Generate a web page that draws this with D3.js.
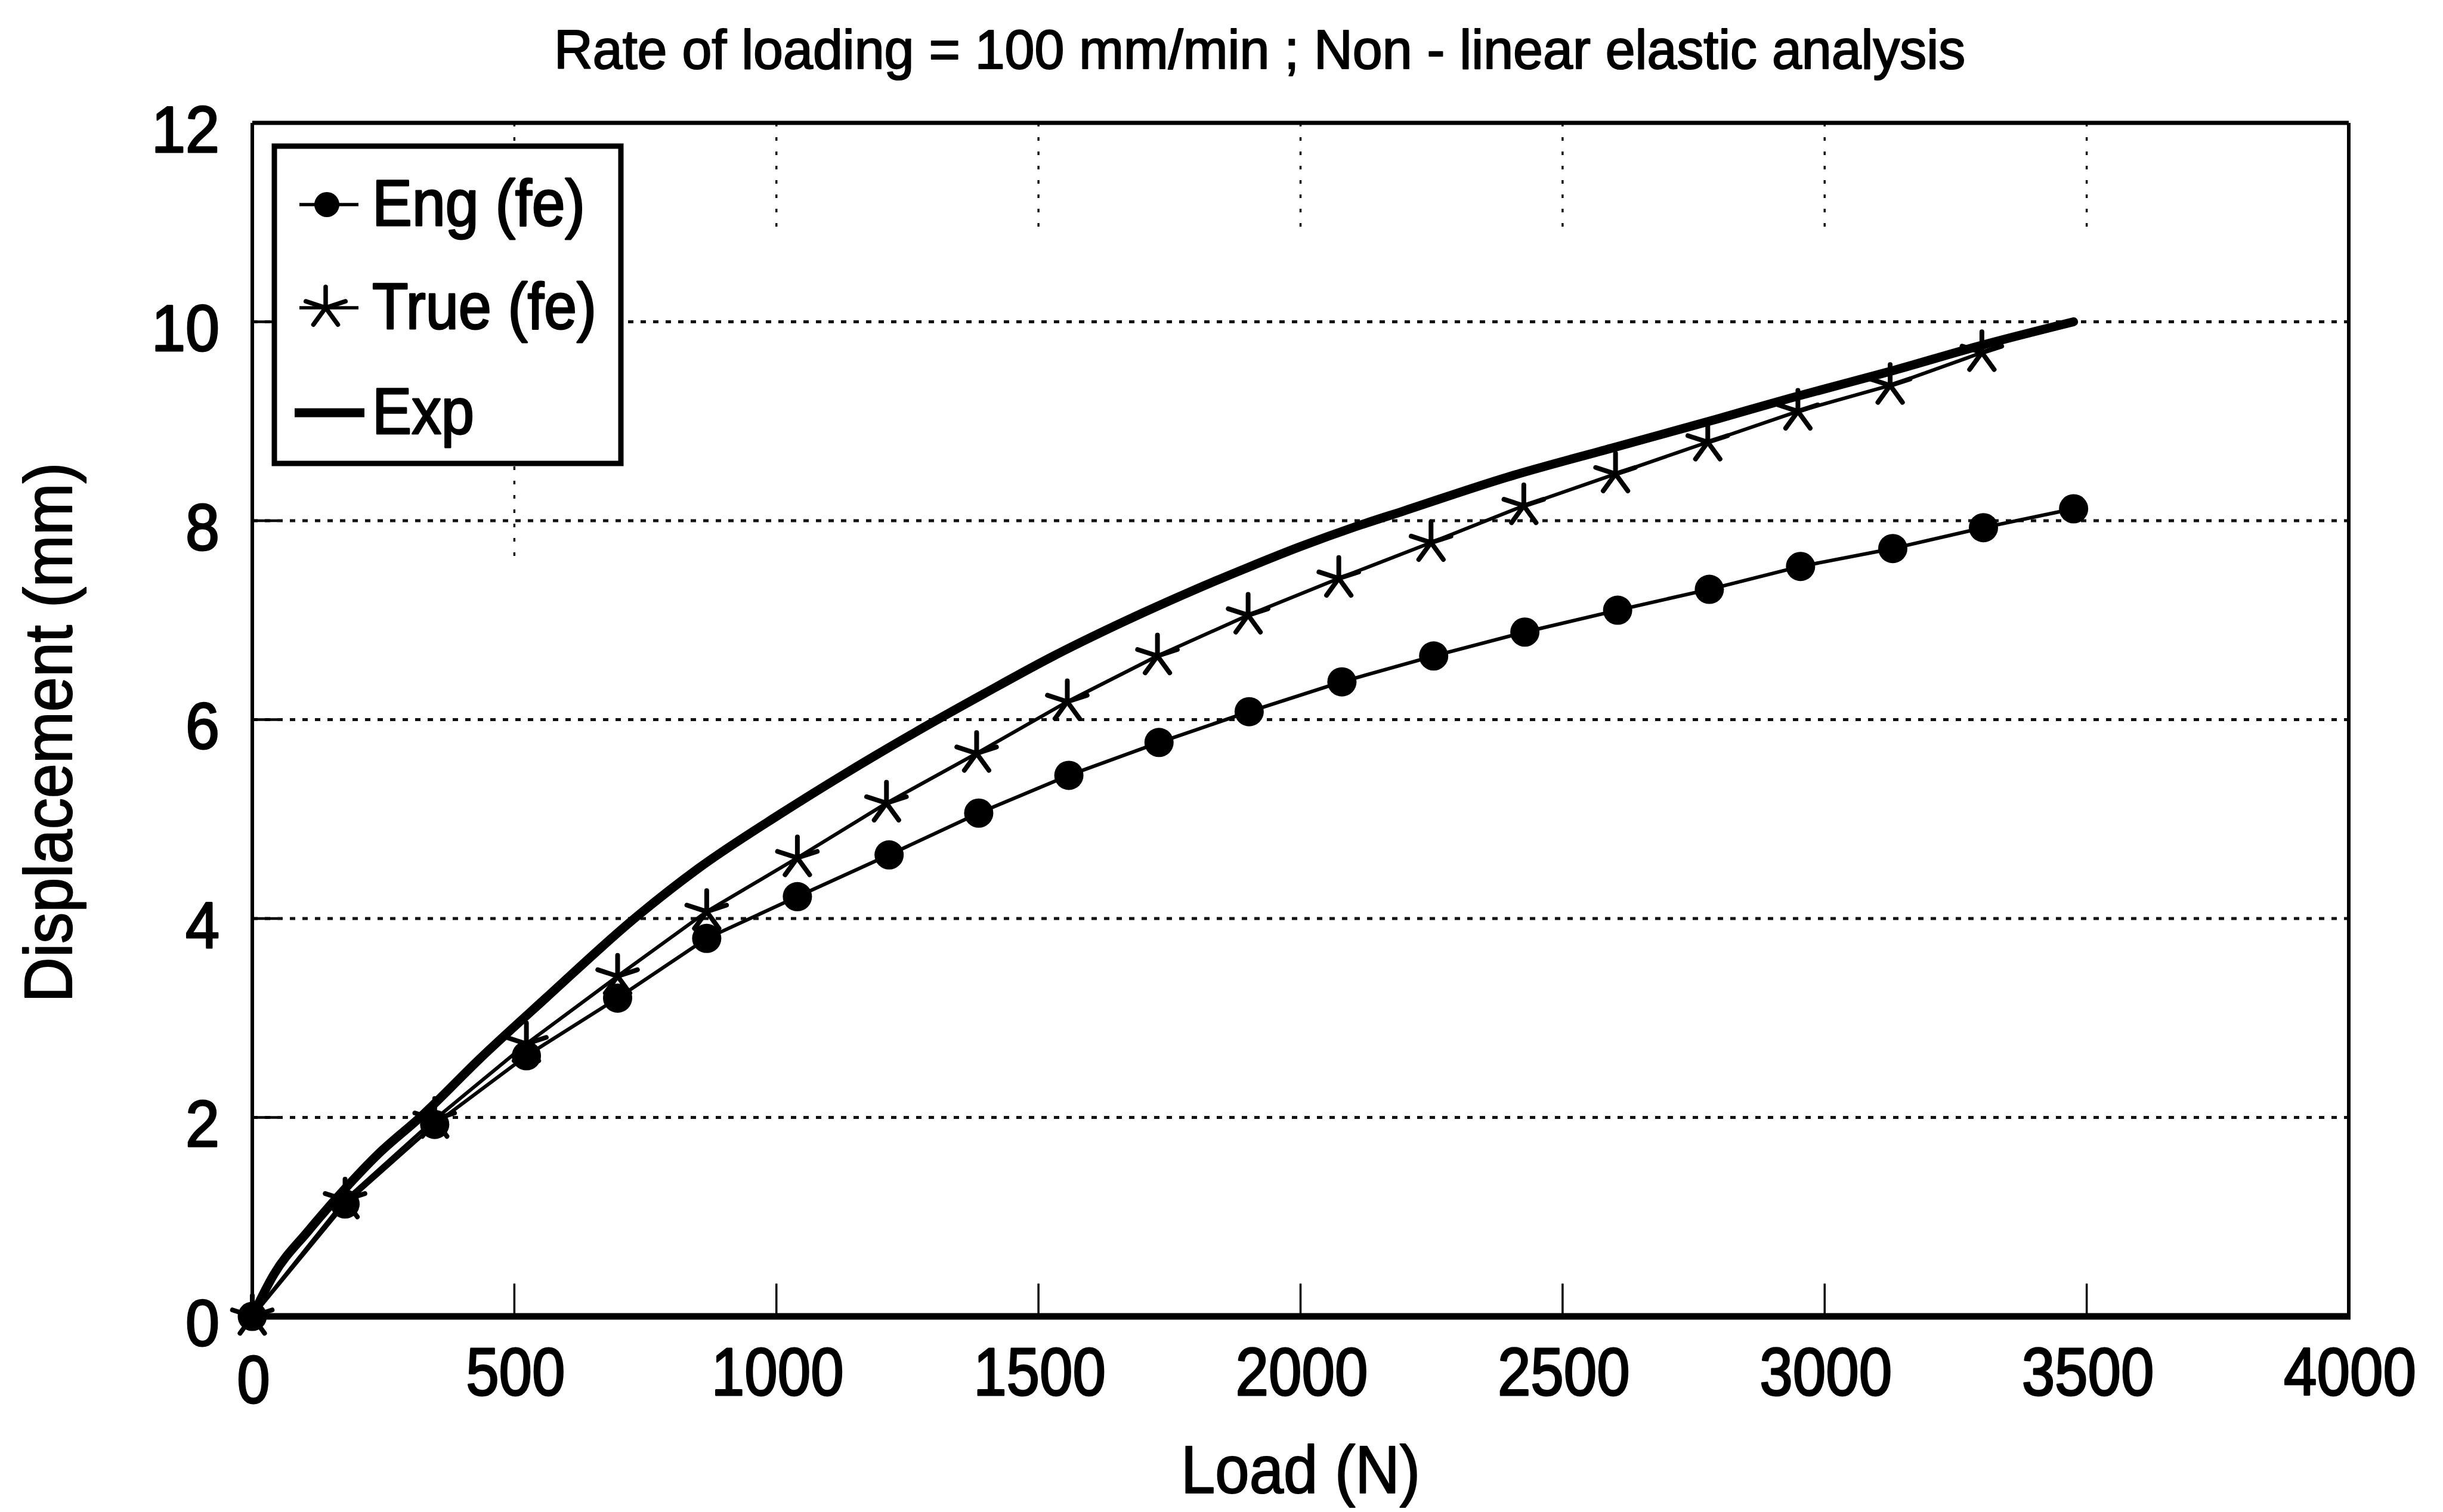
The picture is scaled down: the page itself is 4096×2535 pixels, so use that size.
<!DOCTYPE html>
<html>
<head>
<meta charset="utf-8">
<script src="https://cdn.jsdelivr.net/npm/d3@7"></script>
<style>
  html, body { margin: 0; padding: 0; background: #fff; }
  svg { display: block; }
</style>
</head>
<body>
<script>
// ---- data -------------------------------------------------------------
const loadTicks = [0, 500, 1000, 1500, 2000, 2500, 3000, 3500, 4000];
const dispTicks = [0, 2, 4, 6, 8, 10, 12];

const engLoad = [0, 177, 348, 523, 697, 867, 1040, 1215, 1386, 1558, 1730, 1902, 2079, 2254, 2428, 2605, 2780, 2954, 3130, 3303, 3475];
const engDisp = [0, 1.13, 1.93, 2.62, 3.20, 3.80, 4.22, 4.64, 5.06, 5.44, 5.77, 6.08, 6.38, 6.64, 6.88, 7.10, 7.31, 7.54, 7.72, 7.93, 8.12];

const trueLoad = [0, 177, 348, 523, 697, 867, 1040, 1210, 1382, 1555, 1727, 1900, 2073, 2249, 2426, 2601, 2777, 2949, 3125, 3300];
const trueDisp = [0, 1.17, 1.98, 2.74, 3.42, 4.07, 4.61, 5.16, 5.66, 6.18, 6.64, 7.05, 7.42, 7.78, 8.15, 8.47, 8.79, 9.10, 9.36, 9.69];

const expLoad = [0, 41, 107, 173, 240, 320, 440, 560, 729, 850, 1007, 1132, 1264, 1396, 1529, 1661, 1800, 1900, 2000, 2105, 2198, 2396, 2594, 2793, 2933, 3131, 3297, 3475];
const expDisp = [0, 0.42, 0.86, 1.26, 1.63, 2.00, 2.62, 3.20, 4.00, 4.50, 5.05, 5.46, 5.87, 6.26, 6.64, 6.98, 7.31, 7.53, 7.74, 7.94, 8.10, 8.44, 8.73, 9.02, 9.23, 9.51, 9.76, 10.00];

const seriesNames = ["Eng (fe)", "True (fe)", "Exp"];
const titleText = "Rate of loading = 100 mm/min ; Non - linear elastic analysis";
const xTitle = "Load (N)";
const yTitle = "Displacement (mm)";

// ---- layout -----------------------------------------------------------
const W = 4096, H = 2535;
const plot = { left: 423, right: 3938, top: 206, bottom: 2207 };
const FONT = "'Liberation Sans', Arial, Helvetica, sans-serif";

const svg = d3.select("body").append("svg")
  .attr("width", W).attr("height", H)
  .attr("viewBox", `0 0 ${W} ${H}`);

svg.append("rect").attr("width", W).attr("height", H).attr("fill", "#fff");

const x = d3.scaleLinear().domain([0, 4000]).range([plot.left, plot.right]);
const y = d3.scaleLinear().domain([0, 12]).range([plot.bottom, plot.top]);

const zip = (xs, ys) => xs.map((v, i) => ({ load: v, disp: ys[i] }));
const engData = zip(engLoad, engDisp);
const trueData = zip(trueLoad, trueDisp);
const expData = zip(expLoad, expDisp);

// ---- grid -------------------------------------------------------------
const grid = svg.append("g").attr("class", "grid");
grid.selectAll("line.h")
  .data(dispTicks.filter(d => d > 0 && d < 12))
  .join("line")
  .attr("class", "h")
  .attr("x1", plot.left).attr("x2", plot.right)
  .attr("y1", d => y(d)).attr("y2", d => y(d))
  .attr("stroke", "#111").attr("stroke-width", 5)
  .attr("stroke-dasharray", "9 12");

// vertical dotted grid, faint and only partly drawn
grid.selectAll("line.v")
  .data(loadTicks.filter(d => d > 0 && d < 4000))
  .join("line")
  .attr("class", "v")
  .attr("x1", d => x(d)).attr("x2", d => x(d))
  .attr("y1", y(12)).attr("y2", d => d === 500 ? y(7.6) : y(10.9))
  .attr("stroke", "#111").attr("stroke-width", 3.5)
  .attr("stroke-dasharray", "6 18");

// ---- axes ticks (inward) ----------------------------------------------
const ticks = svg.append("g").attr("class", "ticks");
ticks.selectAll("line.yt")
  .data(dispTicks.filter(d => d > 0 && d < 12))
  .join("line").attr("class", "yt")
  .attr("x1", plot.left).attr("x2", plot.left + 42)
  .attr("y1", d => y(d)).attr("y2", d => y(d))
  .attr("stroke", "#000").attr("stroke-width", 4.5);
ticks.selectAll("line.xt")
  .data(loadTicks.filter(d => d > 0 && d < 4000))
  .join("line").attr("class", "xt")
  .attr("x1", d => x(d)).attr("x2", d => x(d))
  .attr("y1", plot.bottom).attr("y2", plot.bottom - 55)
  .attr("stroke", "#000").attr("stroke-width", 3.5);

// ---- series -----------------------------------------------------------
const lineGen = d3.line().x(d => x(d.load)).y(d => y(d.disp));
const smoothGen = d3.line().x(d => x(d.load)).y(d => y(d.disp)).curve(d3.curveMonotoneX);

svg.append("path").datum(engData)
  .attr("d", lineGen).attr("fill", "none")
  .attr("stroke", "#000").attr("stroke-width", 6).attr("stroke-linejoin", "round");
svg.append("path").datum(trueData)
  .attr("d", lineGen).attr("fill", "none")
  .attr("stroke", "#000").attr("stroke-width", 6).attr("stroke-linejoin", "round");
svg.append("path").datum(expData)
  .attr("d", smoothGen).attr("fill", "none")
  .attr("stroke", "#000").attr("stroke-width", 15).attr("stroke-linecap", "round")
  .attr("stroke-linejoin", "round");

// five-armed asterisk marker
function asteriskPath(r) {
  const angles = [-90, -18, 54, 126, 198];
  return angles.map(a => {
    const t = a * Math.PI / 180;
    return `M0,0L${(r * Math.cos(t)).toFixed(2)},${(r * Math.sin(t)).toFixed(2)}`;
  }).join("");
}

svg.append("g").selectAll("circle")
  .data(engData).join("circle")
  .attr("cx", d => x(d.load)).attr("cy", d => y(d.disp))
  .attr("r", 24.5).attr("fill", "#000");

svg.append("g").selectAll("path")
  .data(trueData).join("path")
  .attr("transform", d => `translate(${x(d.load)},${y(d.disp)})`)
  .attr("d", asteriskPath(35))
  .attr("fill", "none").attr("stroke", "#000").attr("stroke-width", 8)
  .attr("stroke-linecap", "round");

// ---- frame ------------------------------------------------------------
const frame = svg.append("g");
frame.append("line").attr("x1", plot.left).attr("x2", plot.right).attr("y1", plot.top).attr("y2", plot.top)
  .attr("stroke", "#000").attr("stroke-width", 7);
frame.append("line").attr("x1", plot.right).attr("x2", plot.right).attr("y1", plot.top).attr("y2", plot.bottom)
  .attr("stroke", "#000").attr("stroke-width", 6);
frame.append("line").attr("x1", plot.left).attr("x2", plot.left).attr("y1", plot.top).attr("y2", plot.bottom)
  .attr("stroke", "#000").attr("stroke-width", 6);
frame.append("line").attr("x1", plot.left - 3).attr("x2", plot.right + 3).attr("y1", plot.bottom).attr("y2", plot.bottom)
  .attr("stroke", "#000").attr("stroke-width", 11);

// ---- tick labels ------------------------------------------------------
svg.append("g").selectAll("text")
  .data(dispTicks).join("text")
  .attr("x", 368).attr("y", d => y(d) + 10)
  .attr("text-anchor", "end").attr("dominant-baseline", "central")
  .attr("font-family", FONT).attr("font-size", 110)
  .attr("textLength", d => String(d).length * 57).attr("lengthAdjust", "spacingAndGlyphs")
  .attr("stroke", "#000").attr("stroke-width", 3).attr("stroke-linejoin", "round")
  .text(d => d);

svg.append("g").selectAll("text")
  .data(loadTicks).join("text")
  .attr("x", d => x(d) + 2).attr("y", d => d === 0 ? 2352 : 2339)
  .attr("text-anchor", "middle")
  .attr("font-family", FONT).attr("font-size", 114)
  .attr("textLength", d => String(d).length * 55.5).attr("lengthAdjust", "spacingAndGlyphs")
  .attr("stroke", "#000").attr("stroke-width", 3).attr("stroke-linejoin", "round")
  .text(d => d);

// ---- titles -----------------------------------------------------------
svg.append("text")
  .attr("x", 2112).attr("y", 115)
  .attr("text-anchor", "middle")
  .attr("font-family", FONT).attr("font-size", 92)
  .attr("textLength", 2366).attr("lengthAdjust", "spacingAndGlyphs")
  .attr("stroke", "#000").attr("stroke-width", 2.2).attr("stroke-linejoin", "round")
  .text(titleText);

svg.append("text")
  .attr("x", (plot.left + plot.right) / 2).attr("y", 2503)
  .attr("text-anchor", "middle")
  .attr("font-family", FONT).attr("font-size", 114)
  .attr("textLength", 401).attr("lengthAdjust", "spacingAndGlyphs")
  .attr("stroke", "#000").attr("stroke-width", 2.2).attr("stroke-linejoin", "round")
  .text(xTitle);

svg.append("text")
  .attr("transform", `translate(120,1228) rotate(-90)`)
  .attr("text-anchor", "middle")
  .attr("font-family", FONT).attr("font-size", 114)
  .attr("textLength", 905).attr("lengthAdjust", "spacingAndGlyphs")
  .attr("stroke", "#000").attr("stroke-width", 2.2).attr("stroke-linejoin", "round")
  .text(yTitle);

// ---- legend -----------------------------------------------------------
const legend = svg.append("g").attr("class", "legend");
legend.append("rect")
  .attr("x", 460).attr("y", 245).attr("width", 581).attr("height", 532)
  .attr("fill", "#fff").attr("stroke", "#000").attr("stroke-width", 9);

const legendRows = [
  { name: seriesNames[0], cy: 343, type: "circle", textLen: 357 },
  { name: seriesNames[1], cy: 516, type: "asterisk", textLen: 376 },
  { name: seriesNames[2], cy: 692, type: "thick", textLen: 171 }
];
legendRows.forEach(row => {
  const g = legend.append("g");
  if (row.type === "thick") {
    g.append("line").attr("x1", 494).attr("x2", 611).attr("y1", row.cy).attr("y2", row.cy)
      .attr("stroke", "#000").attr("stroke-width", 15);
  } else {
    g.append("line").attr("x1", 502).attr("x2", 601).attr("y1", row.cy).attr("y2", row.cy)
      .attr("stroke", "#000").attr("stroke-width", 5.5);
  }
  if (row.type === "circle") {
    g.append("circle").attr("cx", 548).attr("cy", row.cy).attr("r", 21).attr("fill", "#000");
  } else if (row.type === "asterisk") {
    g.append("path").attr("transform", `translate(546,${row.cy})`)
      .attr("d", asteriskPath(35))
      .attr("fill", "none").attr("stroke", "#000").attr("stroke-width", 7.5)
      .attr("stroke-linecap", "round");
  }
  g.append("text")
    .attr("x", 624).attr("y", row.cy + 35)
    .attr("font-family", FONT).attr("font-size", 110)
    .attr("textLength", row.textLen).attr("lengthAdjust", "spacingAndGlyphs")
    .attr("stroke", "#000").attr("stroke-width", 3).attr("stroke-linejoin", "round")
    .text(row.name);
});
</script>
</body>
</html>
